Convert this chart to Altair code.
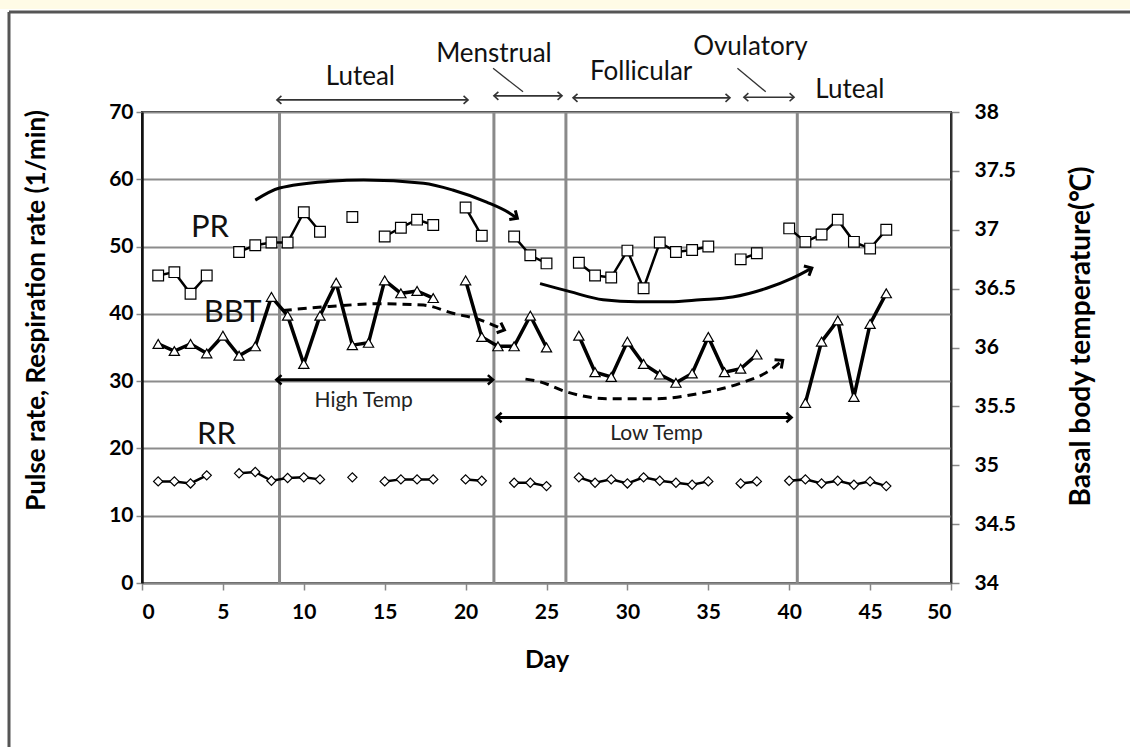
import math
import altair as alt
import pandas as pd

# ---------------- data ----------------
days = list(range(1, 47))
pulse_rate = [45.7, 46.2, 43.0, 45.7, None, 49.2, 50.2, 50.6, 50.6, 55.1,
              52.2, None, 54.4, None, 51.5, 52.8, 54.0, 53.2, None, 55.8,
              51.6, None, 51.5, 48.7, 47.5, None, 47.6, 45.7, 45.4, 49.4,
              43.8, 50.6, 49.2, 49.5, 50.0, None, 48.1, 49.0, None, 52.7,
              50.7, 51.8, 54.0, 50.7, 49.7, 52.5]
bbt = [36.03, 35.97, 36.03, 35.95, 36.10, 35.93, 36.01, 36.43, 36.27, 35.86,
       36.27, 36.55, 36.02, 36.04, 36.57, 36.46, 36.48, 36.42, None, 36.57,
       36.09, 36.01, 36.01, 36.27, 36.00, None, 36.10, 35.79, 35.75, 36.05,
       35.86, 35.77, 35.70, 35.78, 36.09, 35.79, 35.82, 35.94, None, None,
       35.53, 36.05, 36.23, 35.58, 36.20, 36.46]
resp_rate = [15.1, 15.1, 14.8, 16.0, None, 16.3, 16.5, 15.2, 15.6, 15.7,
             15.4, None, 15.7, None, 15.1, 15.4, 15.4, 15.4, None, 15.4,
             15.2, None, 14.9, 14.9, 14.4, None, 15.7, 14.9, 15.4, 14.8,
             15.7, 15.2, 14.9, 14.6, 15.1, None, 14.8, 15.1, None, 15.2,
             15.4, 14.8, 15.2, 14.6, 15.1, 14.4]

phase_lines = [8.5, 21.75, 26.2, 40.5]

# curved trend arrows (day, left-axis value)
pr_arrow1_day = [7.0, 8.5, 11.6, 13.7, 17.4, 19.2, 21.3, 22.7, 23.2]
pr_arrow1_val = [56.9, 58.7, 59.7, 59.9, 59.4, 58.4, 56.6, 55.0, 54.2]
pr_arrow2_day = [24.6, 26.45, 28.5, 30.6, 32.6, 34.5, 36.5, 38.6, 40.2, 41.4]
pr_arrow2_val = [44.5, 43.3, 42.1, 41.8, 41.8, 42.1, 42.5, 43.8, 45.3, 46.8]
bbt_arrow1_day = [8.7, 11.6, 14.7, 17.4, 19.2, 20.9, 22.4]
bbt_arrow1_val = [40.5, 41.1, 41.5, 41.3, 40.1, 39.1, 37.6]
bbt_arrow2_day = [23.7, 24.6, 26.25, 28.7, 31.8, 34.5, 37.0, 38.8, 39.6]
bbt_arrow2_val = [30.3, 29.9, 28.4, 27.4, 27.4, 28.2, 29.7, 31.6, 33.1]

# double arrows
temp_labels = ["High Temp", "Low Temp"]
temp_start = [8.3, 21.9]
temp_end = [21.7, 40.15]
temp_level = [30.2, 24.6]
temp_text_day = [13.7, 31.8]
temp_text_val = [27.0, 22.1]

phase_names = ["Luteal", "Menstrual", "Follicular", "Ovulatory", "Luteal"]
phase_text_day = [13.5, 21.75, 30.85, 37.6, 43.75]
phase_text_val = [75.2, 78.6, 76.0, 79.7, 73.3]
phase_arrow_start = [8.34, 21.75, 26.64, 37.2]
phase_arrow_end = [20.15, 25.96, 36.34, 40.3]
phase_arrow_level = [71.8, 72.4, 72.1, 72.2]
pointer_day = [[21.7, 23.55], [36.8, 38.55]]
pointer_val = [[76.5, 73.0], [76.5, 73.0]]

series_labels = ["PR", "BBT", "RR"]
series_label_day = [4.2, 5.6, 4.6]
series_label_val = [52.8, 40.2, 22.0]

# ---------------- layout ----------------
W, H = 809, 471
PX_PER_DAY = W / 50
PX_PER_UNIT = H / 70
FONT = "Lato"


def seg_ids(vals):
    s, out = 0, []
    for v in vals:
        if v is None:
            s += 1
        out.append(s)
    return out


df = pd.DataFrame({
    "day": days,
    "pr": pulse_rate, "pr_seg": seg_ids(pulse_rate),
    "bbt": bbt, "bbt_seg": seg_ids(bbt),
    "rr": resp_rate, "rr_seg": seg_ids(resp_rate),
})

xs = alt.Scale(domain=[0, 50], nice=False)
yl = alt.Scale(domain=[0, 70], nice=False)
yr = alt.Scale(domain=[34, 38], nice=False)

x_axis = alt.Axis(values=list(range(0, 51, 5)), title="Day", grid=False,
                  labelFont=FONT, labelFontWeight="bold", labelFontSize=21,
                  labelColor="black", labelPadding=11, tickSize=7,
                  tickColor="#888", tickWidth=1.5, domainColor="#888",
                  domainWidth=2, titleFont=FONT, titleFontWeight="bold",
                  titleFontSize=25, titleColor="black", titlePadding=25)
yl_axis = alt.Axis(values=list(range(0, 71, 10)), orient="left",
                   title="Pulse rate, Respiration rate (1/min)",
                   grid=True, gridColor="#8c8c8c", gridWidth=2,
                   labelFont=FONT, labelFontWeight="bold", labelFontSize=21,
                   labelColor="black", labelPadding=3, tickSize=6,
                   tickColor="#888", tickWidth=1.5, domainColor="#111",
                   domainWidth=2.5, titleFont=FONT, titleFontWeight="bold",
                   titleFontSize=26, titleColor="black", titleX=-106,
                   titleY=198, titleAlign="center", titleBaseline="middle",
                   titleAngle=270)
yr_axis = alt.Axis(values=[34 + 0.5 * i for i in range(9)], orient="right",
                   format="~g", title="Basal body temperature(℃)", grid=False,
                   labelFont=FONT, labelFontWeight="bold", labelFontSize=21,
                   labelColor="black", labelPadding=15, tickSize=8,
                   tickColor="#888", tickWidth=1.5, domainColor="#333",
                   domainWidth=2, titleFont=FONT, titleFontWeight="bold",
                   titleFontSize=28, titleColor="black", titleX=130,
                   titleY=224, titleAlign="center", titleBaseline="middle",
                   titleAngle=270)


def X(field):
    return alt.X(field, type="quantitative", scale=xs, axis=x_axis)


def YL(field):
    return alt.Y(field, type="quantitative", scale=yl, axis=yl_axis)


def YR(field):
    return alt.Y(field, type="quantitative", scale=yr, axis=yr_axis)


# ---------------- left-axis layers ----------------
base = alt.Chart(df)

phase_rules = alt.Chart(pd.DataFrame({"d": phase_lines})).mark_rule(
    color="#8a8a8a", strokeWidth=3).encode(x=X("d"))

pr_line = base.mark_line(color="black", strokeWidth=2.5).encode(
    x=X("day"), y=YL("pr"), detail="pr_seg:N")
pr_pts = base.mark_point(shape="square", size=115, filled=True, fill="white",
                         stroke="black", strokeWidth=1.2, opacity=1).encode(
    x=X("day"), y=YL("pr"))
rr_line = base.mark_line(color="black", strokeWidth=2.5).encode(
    x=X("day"), y=YL("rr"), detail="rr_seg:N")
rr_pts = base.mark_point(shape="diamond", size=85, filled=True, fill="white",
                         stroke="black", strokeWidth=1.2, opacity=1).encode(
    x=X("day"), y=YL("rr"))

# curves
curve_rows = []
for cid, (ds, vs, dash) in enumerate([
        (pr_arrow1_day, pr_arrow1_val, "solid"),
        (pr_arrow2_day, pr_arrow2_val, "solid"),
        (bbt_arrow1_day, bbt_arrow1_val, "dash"),
        (bbt_arrow2_day, bbt_arrow2_val, "dash")]):
    for i, (d, v) in enumerate(zip(ds, vs)):
        curve_rows.append({"cid": cid, "i": i, "d": d, "v": v, "style": dash})
curves = pd.DataFrame(curve_rows)


def head_angle(ds, vs):
    dx = (ds[-1] - ds[-2]) * PX_PER_DAY
    dy = -(vs[-1] - vs[-2]) * PX_PER_UNIT
    return math.degrees(math.atan2(dy, dx)) % 360


CHEVRON = "M -1 -0.9 L 0 0 L -1 0.9"

solid_curves = alt.Chart(curves[curves["style"] == "solid"]).mark_line(
    color="black", strokeWidth=3, interpolate="monotone").encode(
    x=X("d"), y=YL("v"), detail="cid:N", order="i:Q")
dash_curves = alt.Chart(curves[curves["style"] == "dash"]).mark_line(
    color="black", strokeWidth=3, strokeDash=[9, 6],
    interpolate="monotone").encode(
    x=X("d"), y=YL("v"), detail="cid:N", order="i:Q")

heads = pd.DataFrame({
    "d": [pr_arrow1_day[-1], pr_arrow2_day[-1], bbt_arrow1_day[-1], bbt_arrow2_day[-1]],
    "v": [pr_arrow1_val[-1], pr_arrow2_val[-1], bbt_arrow1_val[-1], bbt_arrow2_val[-1]],
    "a": [head_angle(pr_arrow1_day, pr_arrow1_val),
          head_angle(pr_arrow2_day, pr_arrow2_val),
          head_angle(bbt_arrow1_day, bbt_arrow1_val),
          head_angle(bbt_arrow2_day, bbt_arrow2_val)],
})
curve_heads = alt.Chart(heads).mark_point(
    shape=CHEVRON, filled=False, stroke="black", strokeWidth=3, size=150,
    opacity=1).encode(x=X("d"), y=YL("v"), angle=alt.Angle("a:Q", scale=None))

# High / Low temp double arrows
temp_df = pd.DataFrame({"s": temp_start, "e": temp_end, "v": temp_level})
temp_rules = alt.Chart(temp_df).mark_rule(color="black", strokeWidth=3).encode(
    x=X("s"), x2="e", y=YL("v"))
th = pd.DataFrame({"d": temp_start + temp_end, "v": temp_level * 2,
                   "a": [180, 180, 0, 0]})
temp_heads = alt.Chart(th).mark_point(
    shape=CHEVRON, filled=False, stroke="black", strokeWidth=2.5, size=110,
    opacity=1).encode(x=X("d"), y=YL("v"), angle=alt.Angle("a:Q", scale=None))
temp_text = alt.Chart(pd.DataFrame({"t": temp_labels, "d": temp_text_day,
                                    "v": temp_text_val})).mark_text(
    font=FONT, fontSize=21, color="#222").encode(x=X("d"), y=YL("v"), text="t:N")

# phase annotations above the plot
phase_text = alt.Chart(pd.DataFrame({"t": phase_names, "d": phase_text_day,
                                     "v": phase_text_val})).mark_text(
    font=FONT, fontSize=26, color="#111").encode(x=X("d"), y=YL("v"), text="t:N")
pa_df = pd.DataFrame({"s": phase_arrow_start, "e": phase_arrow_end,
                      "v": phase_arrow_level})
phase_arrows = alt.Chart(pa_df).mark_rule(color="#333", strokeWidth=1.6).encode(
    x=X("s"), x2="e", y=YL("v"))
ph = pd.DataFrame({"d": phase_arrow_start + phase_arrow_end,
                   "v": phase_arrow_level * 2,
                   "a": [180] * 4 + [0] * 4})
phase_heads = alt.Chart(ph).mark_point(
    shape=CHEVRON, filled=False, stroke="#333", strokeWidth=1.6, size=80,
    opacity=1).encode(x=X("d"), y=YL("v"), angle=alt.Angle("a:Q", scale=None))
pointer_rows = []
for ds, vs in zip(pointer_day, pointer_val):
    pointer_rows.append({"d": ds[0], "d2": ds[1], "v": vs[0], "v2": vs[1]})
pointers = alt.Chart(pd.DataFrame(pointer_rows)).mark_rule(
    color="#333", strokeWidth=1.3).encode(x=X("d"), x2="d2", y=YL("v"), y2="v2")

series_text = alt.Chart(pd.DataFrame({"t": series_labels, "d": series_label_day,
                                      "v": series_label_val})).mark_text(
    font=FONT, fontSize=31, color="#111").encode(x=X("d"), y=YL("v"), text="t:N")

# decorative frame of the figure
strip = alt.Chart(pd.DataFrame({"k": [0]})).mark_rect(color="#fffbe6").encode(
    x=alt.value(-142), x2=alt.value(988), y=alt.value(-112), y2=alt.value(-103))
frame_top = alt.Chart(pd.DataFrame({"k": [0]})).mark_rule(
    color="#555", strokeWidth=3).encode(
    x=alt.value(-133), x2=alt.value(988), y=alt.value(-100))
frame_left = alt.Chart(pd.DataFrame({"k": [0]})).mark_rule(
    color="#555", strokeWidth=3).encode(
    x=alt.value(-133), y=alt.value(-100), y2=alt.value(640))

left_group = alt.layer(
    phase_rules, pr_line, rr_line, pr_pts, rr_pts,
    solid_curves, dash_curves, curve_heads, temp_rules, temp_heads, temp_text,
    phase_text, phase_arrows, phase_heads, pointers, series_text,
    strip, frame_top, frame_left)

# ---------------- right axis (BBT) ----------------
bbt_line = base.mark_line(color="black", strokeWidth=3.5).encode(
    x=X("day"), y=YR("bbt"), detail="bbt_seg:N")
bbt_pts = base.mark_point(shape="triangle-up", size=105, filled=True,
                          fill="white", stroke="black", strokeWidth=1.2,
                          opacity=1).encode(x=X("day"), y=YR("bbt"))
right_group = alt.layer(bbt_line, bbt_pts)

chart = alt.layer(left_group, right_group).resolve_scale(y="independent").properties(
    width=W, height=H,
    autosize=alt.AutoSizeParams(type="none"),
    padding={"left": 142, "top": 112, "right": 179, "bottom": 164},
    background="white",
).configure_view(stroke="#222", strokeWidth=2)

chart.save("out.html", embed_options={"renderer": "svg", "actions": False})
